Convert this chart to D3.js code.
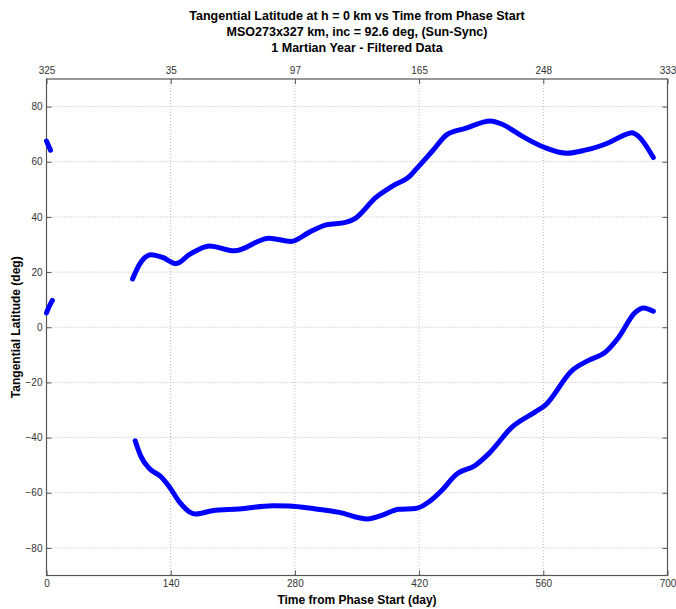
<!DOCTYPE html>
<html>
<head>
<meta charset="utf-8">
<script src="https://cdn.jsdelivr.net/npm/d3@7"></script>
<style>
  body { margin: 0; background: #fff; }
  svg { display: block; font-family: "Liberation Sans", Arial, sans-serif; }
  .tick text { fill: #333; font-size: 10px; }
  .title { font-weight: bold; font-size: 12.5px; fill: #000; }
  .axis-label { font-weight: bold; font-size: 12px; fill: #000; }
</style>
</head>
<body>
<div id="chart"></div>
<script>
(function() {

    // ---- data ----
    const dayTicks = [0, 140, 280, 420, 560, 700];
    const lsLabels = ["325", "35", "97", "165", "248", "333"];
    const latTicks = [-80, -60, -40, -20, 0, 20, 40, 60, 80];

    // northern tangent point, main arc [day, lat]
    const northArc = [
        [97, 17.5], [105, 22.9], [118, 26.3], [131, 25.3], [146, 23.1],
        [161, 26.3], [183.6, 29.5], [211.7, 27.7], [251, 32.3], [275.5, 31.1],
        [296, 34.4], [315, 37.1], [337, 38], [348.6, 39.6], [371, 47],
        [390, 51.2], [408.6, 54.5], [420, 58.5], [435, 63.9], [451.7, 69.9],
        [472, 72.1], [500.5, 74.8], [513.6, 73.6], [536, 69.3], [562, 65.1],
        [586.7, 63.1], [607, 64.2], [633.6, 66.9], [648.6, 69.3], [660, 70.5],
        [667, 69.3], [684, 61.5]
    ];
    // southern tangent point, main arc
    const southArc = [
        [100, -41.2], [106.7, -47], [116, -51.2], [129, -54.2], [138.6, -57.9],
        [149.8, -63.3], [161, -66.9], [168.6, -67.7], [187, -66.5], [217, -65.9],
        [254.8, -64.7], [273.6, -64.8], [303.6, -65.9], [329.8, -67.1], [361.7, -69.5],
        [378.6, -68.1], [397, -66], [416, -65.7], [431, -63.3], [446, -59],
        [461, -53.6], [483.6, -50], [498.6, -45.8], [524.8, -36.2], [551, -30.7],
        [562, -28.3], [592.3, -15.7], [611, -12], [630, -9], [645, -3.6],
        [663.6, 5.4], [673, 7], [684, 5.8]
    ];
    // short pieces at the very start of the phase
    const northStart = [[0, 67.5], [4.5, 64.2]];
    const southStart = [[0, 5.2], [3, 7.5], [6.6, 9.7]];

    const titleLines = [
        "Tangential Latitude at h = 0 km vs Time from Phase Start",
        "MSO273x327 km, inc = 92.6 deg, (Sun-Sync)",
        "1 Martian Year - Filtered Data"
    ];

    // ---- layout ----
    const W = 676, H = 609;
    const left = 46.5, right = 667.5, top = 79, bottom = 575.5;

    const svg = d3.select("#chart").append("svg")
        .attr("width", W)
        .attr("height", H);

    const x = d3.scaleLinear().domain([0, 700]).range([left, right]);
    const y = d3.scaleLinear().domain([-90, 90]).range([bottom, top]);

    // grid
    const grid = svg.append("g").attr("class", "grid");
    grid.selectAll("line.vg").data(dayTicks.slice(1, -1)).enter().append("line")
        .attr("x1", d => x(d)).attr("x2", d => x(d))
        .attr("y1", top).attr("y2", bottom)
        .attr("stroke", "#b8b8b8").attr("stroke-width", 1)
        .attr("stroke-dasharray", "1,2");
    grid.selectAll("line.hg").data(latTicks).enter().append("line")
        .attr("x1", left).attr("x2", right)
        .attr("y1", d => y(d)).attr("y2", d => y(d))
        .attr("stroke", "#b8b8b8").attr("stroke-width", 1)
        .attr("stroke-dasharray", "1,2");

    // axes (inward ticks like matlab)
    function styleAxis(g) {
        g.select(".domain").remove();
        g.selectAll(".tick line").attr("stroke", "#555");
    }
    svg.append("g")
        .attr("transform", "translate(0," + bottom + ")")
        .call(d3.axisBottom(x).tickValues(dayTicks).tickSizeInner(-5).tickSizeOuter(0).tickPadding(4))
        .call(styleAxis);
    svg.append("g")
        .attr("transform", "translate(0," + top + ")")
        .call(d3.axisTop(x).tickValues(dayTicks).tickSizeInner(-5).tickSizeOuter(0).tickPadding(5)
            .tickFormat((d, i) => lsLabels[i]))
        .call(styleAxis);
    svg.append("g")
        .attr("transform", "translate(" + left + ",0)")
        .call(d3.axisLeft(y).tickValues(latTicks).tickSizeInner(-5).tickSizeOuter(0).tickPadding(4))
        .call(styleAxis);
    svg.append("g")
        .attr("transform", "translate(" + right + ",0)")
        .call(d3.axisRight(y).tickValues(latTicks).tickSizeInner(-5).tickSizeOuter(0).tickFormat(""))
        .call(styleAxis);

    svg.selectAll(".tick text").attr("font-family", "'Liberation Sans', Arial, sans-serif");

    // frame
    svg.append("rect")
        .attr("x", left).attr("y", top)
        .attr("width", right - left).attr("height", bottom - top)
        .attr("fill", "none").attr("stroke", "#555").attr("stroke-width", 1.2);

    // curves
    const line = d3.line()
        .x(d => x(d[0]))
        .y(d => y(d[1]))
        .curve(d3.curveMonotoneX);

    svg.append("g").selectAll("path")
        .data([northStart, southStart, northArc, southArc])
        .enter().append("path")
        .attr("d", line)
        .attr("fill", "none")
        .attr("stroke", "#0000ff")
        .attr("stroke-width", 5)
        .attr("stroke-linecap", "round")
        .attr("stroke-linejoin", "round");

    // titles
    svg.append("g").selectAll("text")
        .data(titleLines)
        .enter().append("text")
        .attr("class", "title")
        .attr("x", 357)
        .attr("y", (d, i) => 19.5 + i * 16)
        .attr("text-anchor", "middle")
        .text(d => d);

    svg.append("text")
        .attr("class", "axis-label")
        .attr("x", 357).attr("y", 604)
        .attr("text-anchor", "middle")
        .text("Time from Phase Start (day)");

    svg.append("text")
        .attr("class", "axis-label")
        .attr("transform", "translate(20," + y(0) + ") rotate(-90)")
        .attr("text-anchor", "middle")
        .text("Tangential Latitude (deg)");
})();
</script>
</body>
</html>
